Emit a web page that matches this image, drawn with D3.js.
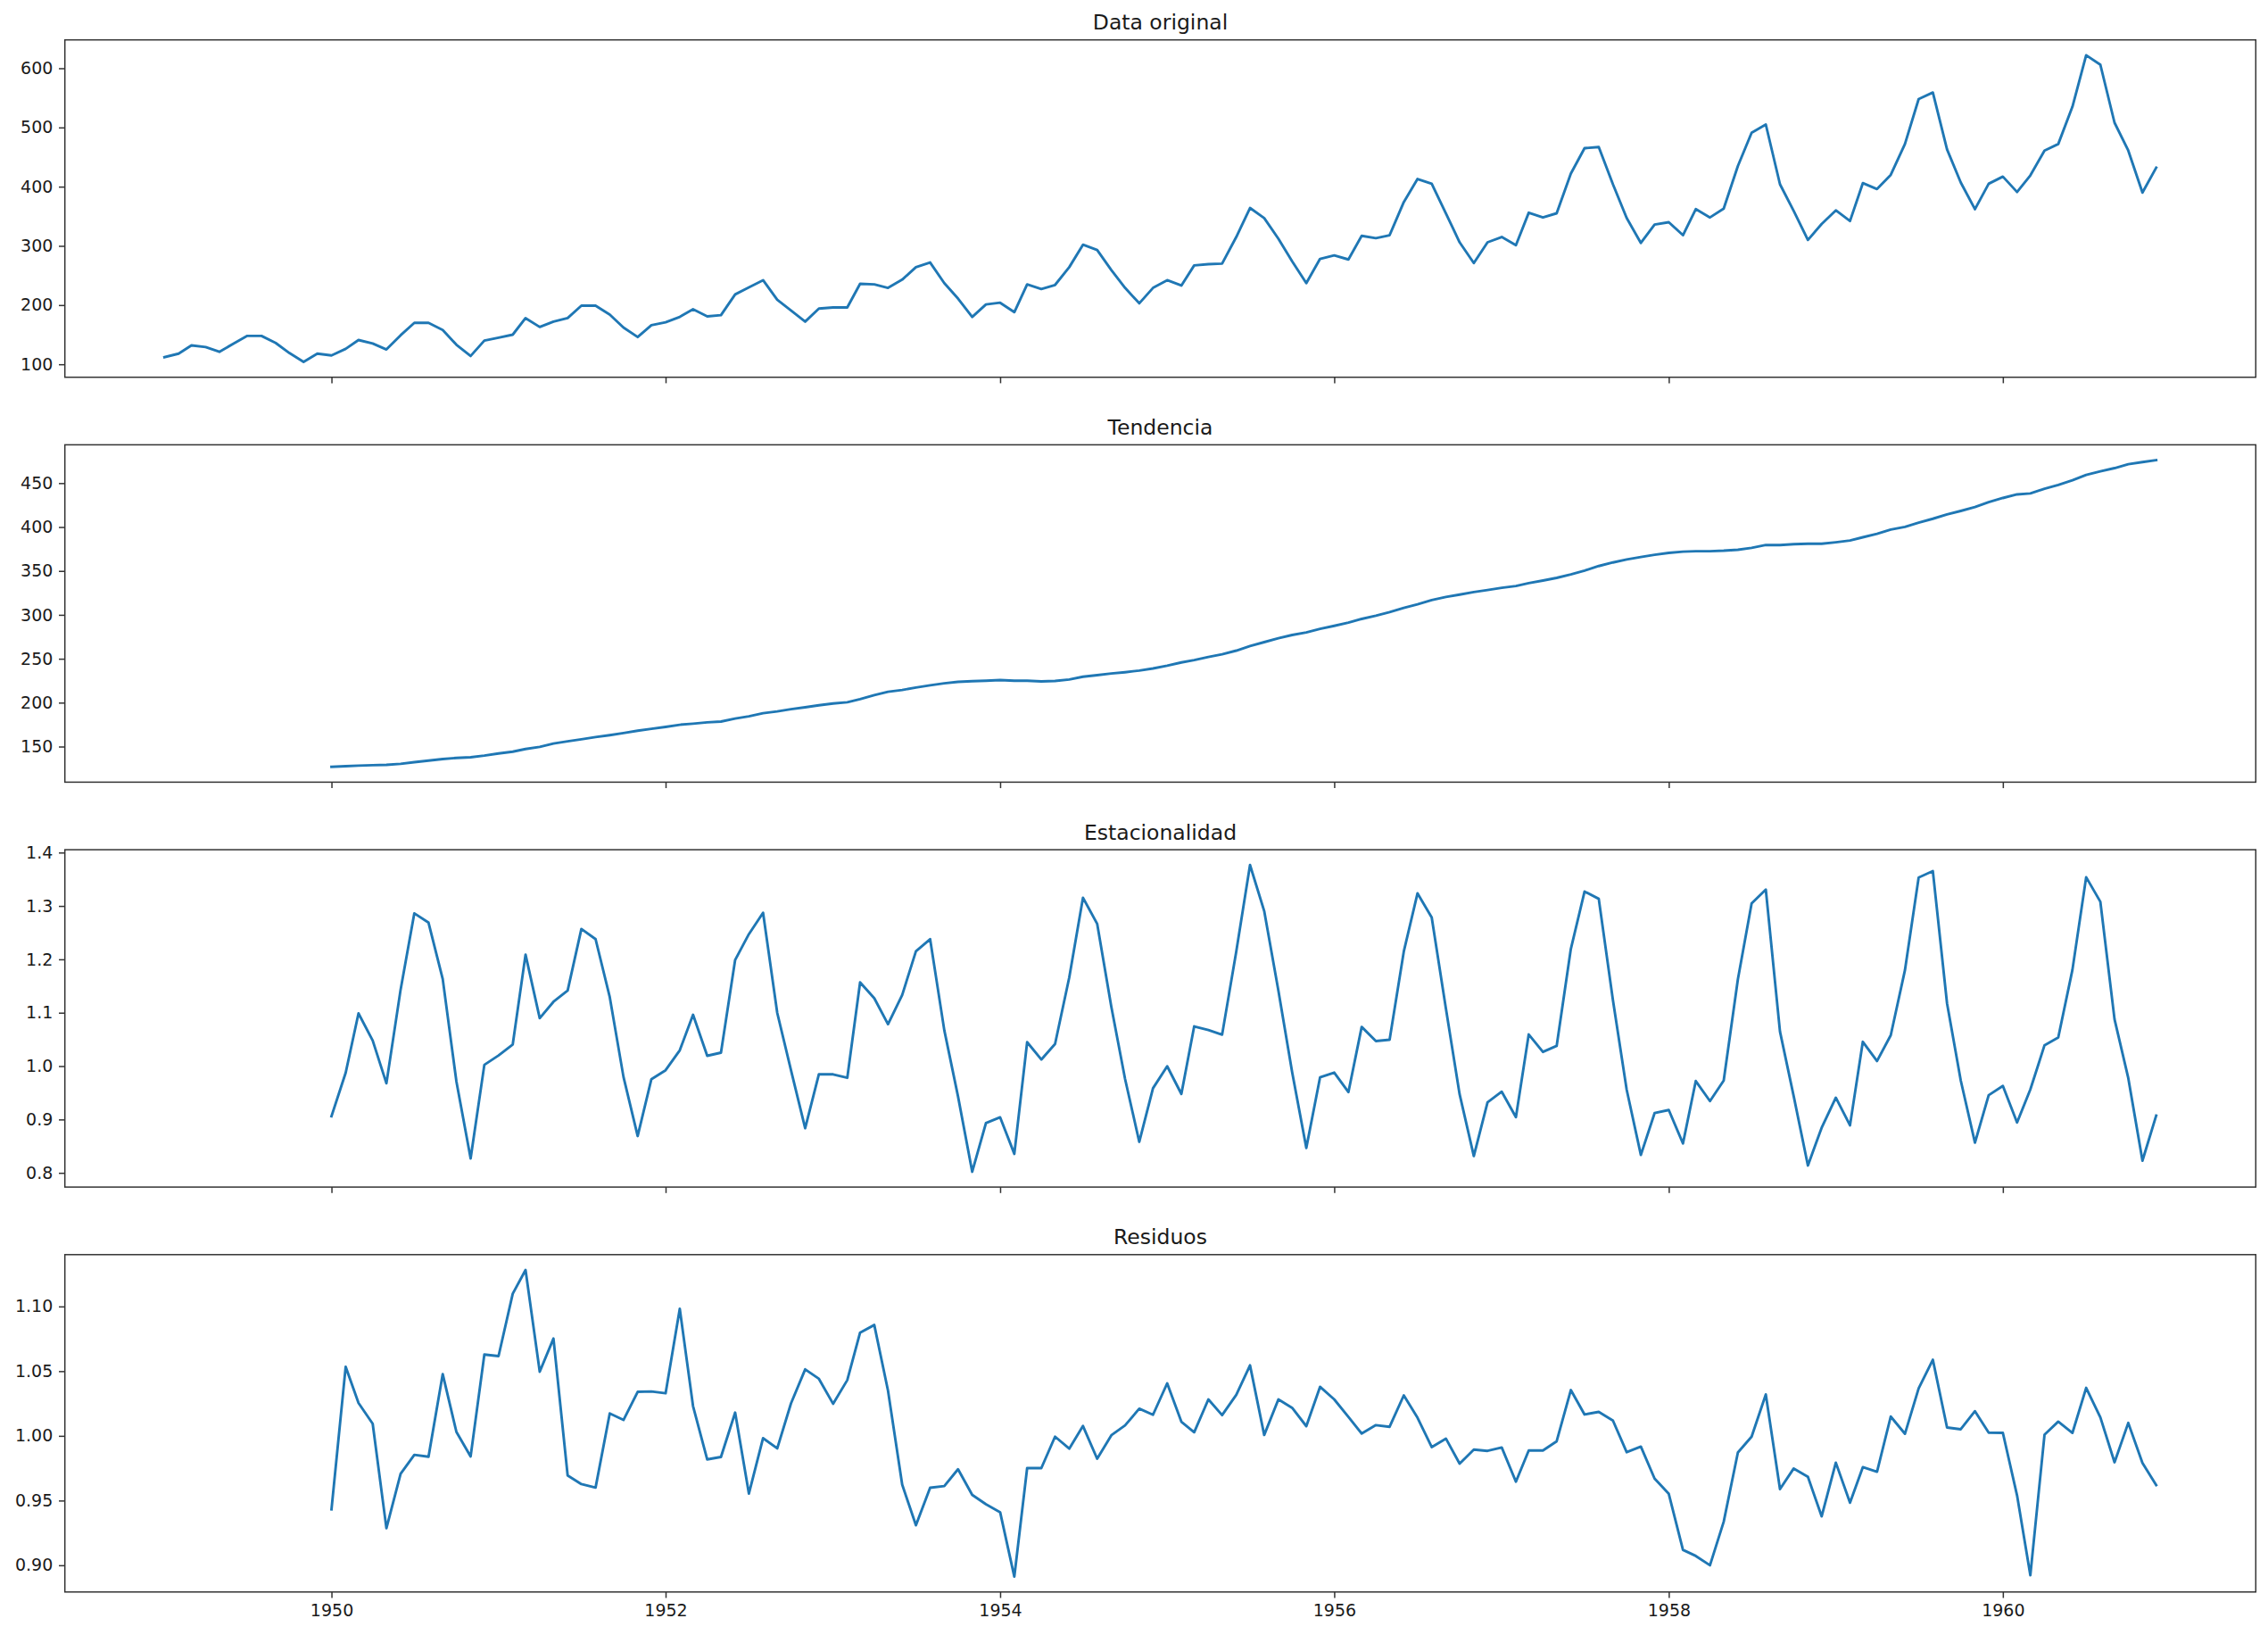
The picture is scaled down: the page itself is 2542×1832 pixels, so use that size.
<!DOCTYPE html>
<html>
<head>
<meta charset="utf-8">
<script src="https://cdn.jsdelivr.net/npm/d3@7"></script>
<style>
  body { margin: 0; background: #fff; }
  svg { display: block; font-family: "DejaVu Sans", sans-serif; }
</style>
</head>
<body>
<svg id="chart" width="2542" height="1832"></svg>
<script>
// AirPassengers, monthly from Jan 1949
var originalStart = [1949, 0];
var original = [
  112, 118, 132, 129, 121, 135, 148, 148, 136, 119, 104, 118,
  115, 126, 141, 135, 125, 149, 170, 170, 158, 133, 114, 140,
  145, 150, 178, 163, 172, 178, 199, 199, 184, 162, 146, 166,
  171, 180, 193, 181, 183, 218, 230, 242, 209, 191, 172, 194,
  196, 196, 236, 235, 229, 243, 264, 272, 237, 211, 180, 201,
  204, 188, 235, 227, 234, 264, 302, 293, 259, 229, 203, 229,
  242, 233, 267, 269, 270, 315, 364, 347, 312, 274, 237, 278,
  284, 277, 317, 313, 318, 374, 413, 405, 355, 306, 271, 306,
  315, 301, 356, 348, 355, 422, 465, 467, 404, 347, 305, 336,
  340, 318, 362, 348, 363, 435, 491, 505, 404, 359, 310, 337,
  360, 342, 406, 396, 420, 472, 548, 559, 463, 407, 362, 405,
  417, 391, 419, 461, 472, 535, 622, 606, 508, 461, 390, 432
];

// decomposition series, monthly from Jan 1950
var componentStart = [1950, 0];
var trend = [
  126.92, 127.58, 128.33, 128.83, 129.17, 130.33, 132.17, 134.00, 135.83, 137.00, 137.83, 139.67,
  142.17, 144.17, 147.25, 149.58, 153.50, 155.92, 158.33, 160.75, 162.92, 165.33, 168.00, 170.17,
  172.33, 174.83, 176.08, 177.58, 178.50, 181.83, 184.42, 188.00, 190.08, 192.50, 194.67, 197.00,
  199.08, 200.42, 204.00, 208.50, 212.33, 214.42, 217.25, 219.75, 222.08, 223.75, 224.42, 225.00,
  225.67, 225.00, 224.92, 224.25, 224.67, 226.42, 229.58, 231.33, 233.17, 234.67, 236.58, 238.92,
  242.08, 245.83, 248.50, 252.00, 255.00, 259.25, 264.42, 268.92, 273.33, 277.08, 279.92, 284.00,
  287.50, 291.17, 295.33, 299.00, 303.00, 307.92, 312.00, 316.83, 320.42, 323.08, 325.92, 328.25,
  330.83, 332.83, 336.08, 339.00, 342.08, 346.08, 350.42, 355.58, 359.67, 363.08, 365.92, 368.42,
  370.50, 371.92, 372.42, 372.42, 373.08, 374.17, 376.33, 379.50, 379.50, 380.50, 380.92, 381.00,
  382.67, 384.67, 388.33, 392.33, 397.08, 400.17, 404.92, 409.42, 414.33, 418.33, 422.67, 428.33,
  433.08, 437.17, 438.25, 443.67, 448.00, 453.25, 459.42, 463.33, 467.08, 471.58, 473.92, 476.17
];
var seasonal = [
  0.9061, 0.9876, 1.0987, 1.0479, 0.9677, 1.1432, 1.2862, 1.2687, 1.1632, 0.9708, 0.8271, 1.0024,
  1.0199, 1.0405, 1.2088, 1.0897, 1.1205, 1.1416, 1.2568, 1.2379, 1.1294, 0.9798, 0.8690, 0.9755,
  0.9923, 1.0296, 1.0961, 1.0193, 1.0252, 1.1989, 1.2472, 1.2872, 1.0995, 0.9922, 0.8836, 0.9848,
  0.9845, 0.9780, 1.1569, 1.1271, 1.0785, 1.1333, 1.2152, 1.2378, 1.0672, 0.9430, 0.8021, 0.8933,
  0.9040, 0.8356, 1.0448, 1.0123, 1.0415, 1.1660, 1.3154, 1.2666, 1.1108, 0.9758, 0.8581, 0.9585,
  0.9997, 0.9478, 1.0744, 1.0675, 1.0588, 1.2150, 1.3766, 1.2904, 1.1415, 0.9889, 0.8467, 0.9789,
  0.9878, 0.9513, 1.0734, 1.0468, 1.0495, 1.2146, 1.3237, 1.2783, 1.1079, 0.9471, 0.8315, 0.9322,
  0.9521, 0.9044, 1.0593, 1.0265, 1.0378, 1.2194, 1.3270, 1.3133, 1.1233, 0.9557, 0.8335, 0.9120,
  0.9177, 0.8550, 0.9720, 0.9344, 0.9730, 1.1626, 1.3047, 1.3307, 1.0646, 0.9435, 0.8138, 0.8845,
  0.9408, 0.8891, 1.0455, 1.0094, 1.0577, 1.1795, 1.3533, 1.3653, 1.1175, 0.9729, 0.8565, 0.9455,
  0.9629, 0.8944, 0.9561, 1.0391, 1.0536, 1.1804, 1.3539, 1.3079, 1.0876, 0.9776, 0.8229, 0.9072
];
var residual = [
  0.9432, 1.0534, 1.0254, 1.0094, 0.9286, 0.9707, 0.9853, 0.9839, 1.0477, 1.0030, 0.9841, 1.0628,
  1.0616, 1.1098, 1.1282, 1.0496, 1.0752, 0.9694, 0.9627, 0.9600, 1.0173, 1.0123, 1.0340, 1.0343,
  1.0329, 1.0982, 1.0230, 0.9818, 0.9837, 1.0180, 0.9554, 0.9982, 0.9903, 1.0251, 1.0514, 1.0441,
  1.0248, 1.0431, 1.0798, 1.0857, 1.0349, 0.9623, 0.9309, 0.9599, 0.9612, 0.9742, 0.9544, 0.9471,
  0.9410, 0.8912, 0.9751, 0.9751, 0.9994, 0.9901, 1.0076, 0.9823, 1.0005, 1.0081, 1.0210, 1.0163,
  1.0406, 1.0109, 1.0028, 1.0282, 1.0160, 1.0317, 1.0545, 1.0007, 1.0282, 1.0217, 1.0075, 1.0379,
  1.0282, 1.0146, 1.0018, 1.0083, 1.0070, 1.0313, 1.0140, 0.9913, 0.9979, 0.9785, 0.9894, 0.9884,
  0.9910, 0.9646, 0.9887, 0.9887, 0.9958, 1.0354, 1.0165, 1.0185, 1.0118, 0.9874, 0.9917, 0.9670,
  0.9552, 0.9119, 0.9072, 0.9000, 0.9336, 0.9872, 0.9994, 1.0320, 0.9589, 0.9748, 0.9683, 0.9378,
  0.9793, 0.9483, 0.9758, 0.9723, 1.0149, 1.0016, 1.0367, 1.0588, 1.0065, 1.0051, 1.0191, 1.0025,
  1.0023, 0.9540, 0.8923, 1.0009, 1.0110, 1.0023, 1.0371, 1.0143, 0.9796, 1.0100, 0.9791, 0.9619
];

var titles = ["Data original", "Tendencia", "Estacionalidad", "Residuos"];
var yTicks = [
  [100, 200, 300, 400, 500, 600],
  [150, 200, 250, 300, 350, 400, 450],
  [0.8, 0.9, 1.0, 1.1, 1.2, 1.3, 1.4],
  [0.90, 0.95, 1.00, 1.05, 1.10]
];
var yFormats = ["d", "d", ".1f", ".2f"];
var xTickYears = [1950, 1952, 1954, 1956, 1958, 1960];

// layout
var left = 72.7, right = 2528.3, firstTop = 44.7,
  panelHeight = 378, panelStep = 453.7,
  lineColor = "#1f77b4", axisColor = "#333", textColor = "#1a1a1a",
  tickLen = 6.7, tickPad = 6.7, tickFont = 19, titleFont = 23.5;

function toSeries(start, values) {
  return values.map(function (v, i) {
    return { date: new Date(Date.UTC(start[0], start[1] + i, 1)), value: v };
  });
}

var panels = [
  toSeries(originalStart, original),
  toSeries(componentStart, trend),
  toSeries(componentStart, seasonal),
  toSeries(componentStart, residual)
];

// shared x, padded 5% like matplotlib
var xExtent = d3.extent(panels[0], function (d) { return d.date; });
var xPad = (xExtent[1] - xExtent[0]) * 0.05;
var xScale = d3.scaleUtc()
  .domain([new Date(+xExtent[0] - xPad), new Date(+xExtent[1] + xPad)])
  .range([left, right]);

var svg = d3.select("#chart");

panels.forEach(function (series, i) {
  var top = firstTop + i * panelStep,
    bottom = top + panelHeight;

  var yExtent = d3.extent(series, function (d) { return d.value; });
  var yPad = (yExtent[1] - yExtent[0]) * 0.05;
  var yScale = d3.scaleLinear()
    .domain([yExtent[0] - yPad, yExtent[1] + yPad])
    .range([bottom, top]);

  var g = svg.append("g");

  var line = d3.line()
    .x(function (d) { return xScale(d.date); })
    .y(function (d) { return yScale(d.value); });

  g.append("path")
    .datum(series)
    .attr("d", line)
    .attr("fill", "none")
    .attr("stroke", lineColor)
    .attr("stroke-width", 2.9)
    .attr("stroke-linejoin", "round")
    .attr("stroke-linecap", "square");

  // y axis
  var yAxis = d3.axisLeft(yScale)
    .tickValues(yTicks[i])
    .tickFormat(d3.format(yFormats[i]))
    .tickSize(tickLen)
    .tickPadding(tickPad);

  var yG = g.append("g")
    .attr("transform", "translate(" + left + ",0)")
    .call(yAxis);

  // x axis, labels only on the bottom panel
  var xAxis = d3.axisBottom(xScale)
    .tickValues(xTickYears.map(function (y) { return new Date(Date.UTC(y, 0, 1)); }))
    .tickFormat(i === panels.length - 1 ? d3.utcFormat("%Y") : function () { return ""; })
    .tickSize(tickLen)
    .tickPadding(tickPad);

  var xG = g.append("g")
    .attr("transform", "translate(0," + bottom + ")")
    .call(xAxis);

  [yG, xG].forEach(function (ax) {
    ax.select(".domain").remove();
    ax.selectAll(".tick line").attr("stroke", axisColor).attr("stroke-width", 1.5);
    ax.selectAll(".tick text")
      .attr("fill", textColor)
      .style("font-size", tickFont + "px")
      .style("font-family", "DejaVu Sans, sans-serif");
  });

  // frame
  g.append("rect")
    .attr("x", left)
    .attr("y", top)
    .attr("width", right - left)
    .attr("height", panelHeight)
    .attr("fill", "none")
    .attr("stroke", axisColor)
    .attr("stroke-width", 1.5);

  g.append("text")
    .attr("x", (left + right) / 2)
    .attr("y", top - 11.4)
    .attr("text-anchor", "middle")
    .attr("fill", textColor)
    .style("font-size", titleFont + "px")
    .text(titles[i]);
});
</script>
</body>
</html>
